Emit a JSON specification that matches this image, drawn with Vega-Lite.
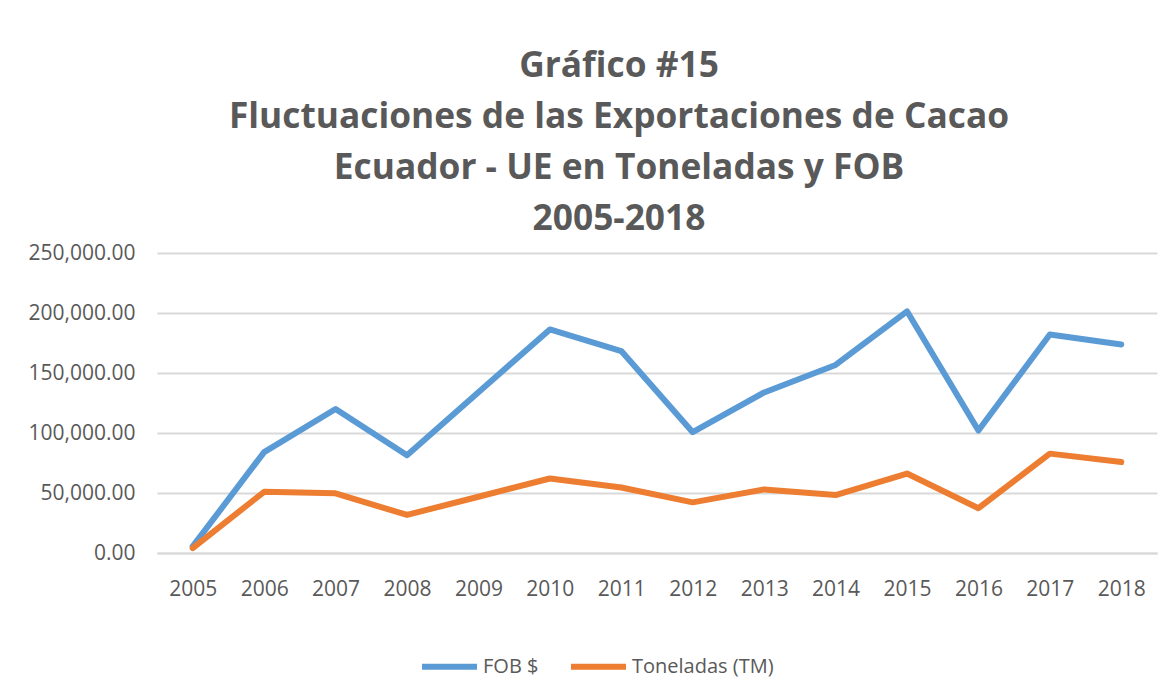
{
  "$schema": "https://vega.github.io/schema/vega-lite/v6.json",
  "autosize": {"type": "none"},
  "width": 1000,
  "height": 300,
  "padding": {"left": 157, "top": 253, "right": 19, "bottom": 143},
  "background": "white",
  "config": {
    "view": {"stroke": null},
    "font": "Open Sans"
  },
  "title": {
    "text": ["Gráfico #15", "Fluctuaciones de las Exportaciones de Cacao", "Ecuador - UE en Toneladas y FOB", "2005-2018"],
    "font": "Open Sans",
    "fontSize": 35.3,
    "fontWeight": "bold",
    "color": "#595959",
    "lineHeight": 51,
    "anchor": "middle",
    "frame": "group",
    "dx": -38,
    "offset": 5
  },
  "data": {
    "values": [
      {"year": "2005", "serie": "FOB $", "value": 5500},
      {"year": "2006", "serie": "FOB $", "value": 84100},
      {"year": "2007", "serie": "FOB $", "value": 120000},
      {"year": "2008", "serie": "FOB $", "value": 81400},
      {"year": "2009", "serie": "FOB $", "value": 134000},
      {"year": "2010", "serie": "FOB $", "value": 186300},
      {"year": "2011", "serie": "FOB $", "value": 168300},
      {"year": "2012", "serie": "FOB $", "value": 100700},
      {"year": "2013", "serie": "FOB $", "value": 133800},
      {"year": "2014", "serie": "FOB $", "value": 156700},
      {"year": "2015", "serie": "FOB $", "value": 201400},
      {"year": "2016", "serie": "FOB $", "value": 102100},
      {"year": "2017", "serie": "FOB $", "value": 182100},
      {"year": "2018", "serie": "FOB $", "value": 173800},
      {"year": "2005", "serie": "Toneladas (TM)", "value": 4100},
      {"year": "2006", "serie": "Toneladas (TM)", "value": 51000},
      {"year": "2007", "serie": "Toneladas (TM)", "value": 49700},
      {"year": "2008", "serie": "Toneladas (TM)", "value": 31700},
      {"year": "2009", "serie": "Toneladas (TM)", "value": 46900},
      {"year": "2010", "serie": "Toneladas (TM)", "value": 62100},
      {"year": "2011", "serie": "Toneladas (TM)", "value": 54600},
      {"year": "2012", "serie": "Toneladas (TM)", "value": 42200},
      {"year": "2013", "serie": "Toneladas (TM)", "value": 53000},
      {"year": "2014", "serie": "Toneladas (TM)", "value": 48300},
      {"year": "2015", "serie": "Toneladas (TM)", "value": 66200},
      {"year": "2016", "serie": "Toneladas (TM)", "value": 37300},
      {"year": "2017", "serie": "Toneladas (TM)", "value": 82800},
      {"year": "2018", "serie": "Toneladas (TM)", "value": 75800}
    ]
  },
  "mark": {"type": "line", "strokeWidth": 6, "strokeCap": "round", "strokeJoin": "round"},
  "encoding": {
    "x": {
      "field": "year",
      "type": "ordinal",
      "scale": {"type": "point", "padding": 0.5},
      "axis": {
        "title": null,
        "labelAngle": 0,
        "labelFontSize": 21,
        "labelColor": "#595959",
        "labelPadding": 25,
        "ticks": false,
        "domain": true,
        "domainColor": "#d9d9d9",
        "domainWidth": 2,
        "grid": false
      }
    },
    "y": {
      "field": "value",
      "type": "quantitative",
      "scale": {"domain": [0, 250000], "nice": false},
      "axis": {
        "title": null,
        "values": [0, 50000, 100000, 150000, 200000, 250000],
        "format": ",.2f",
        "labelFontSize": 21,
        "labelColor": "#595959",
        "labelPadding": 22,
        "ticks": false,
        "domain": false,
        "grid": true,
        "gridColor": "#d9d9d9",
        "gridWidth": 2
      }
    },
    "color": {
      "field": "serie",
      "type": "nominal",
      "scale": {"domain": ["FOB $", "Toneladas (TM)"], "range": ["#5B9BD5", "#ED7D31"]},
      "legend": {
        "title": null,
        "orient": "none",
        "direction": "horizontal",
        "legendX": 262,
        "legendY": 383,
        "symbolType": "stroke",
        "symbolSize": 3025,
        "symbolStrokeWidth": 6,
        "labelFontSize": 20,
        "labelColor": "#595959",
        "labelOffset": 3,
        "columnPadding": 20
      }
    }
  }
}
